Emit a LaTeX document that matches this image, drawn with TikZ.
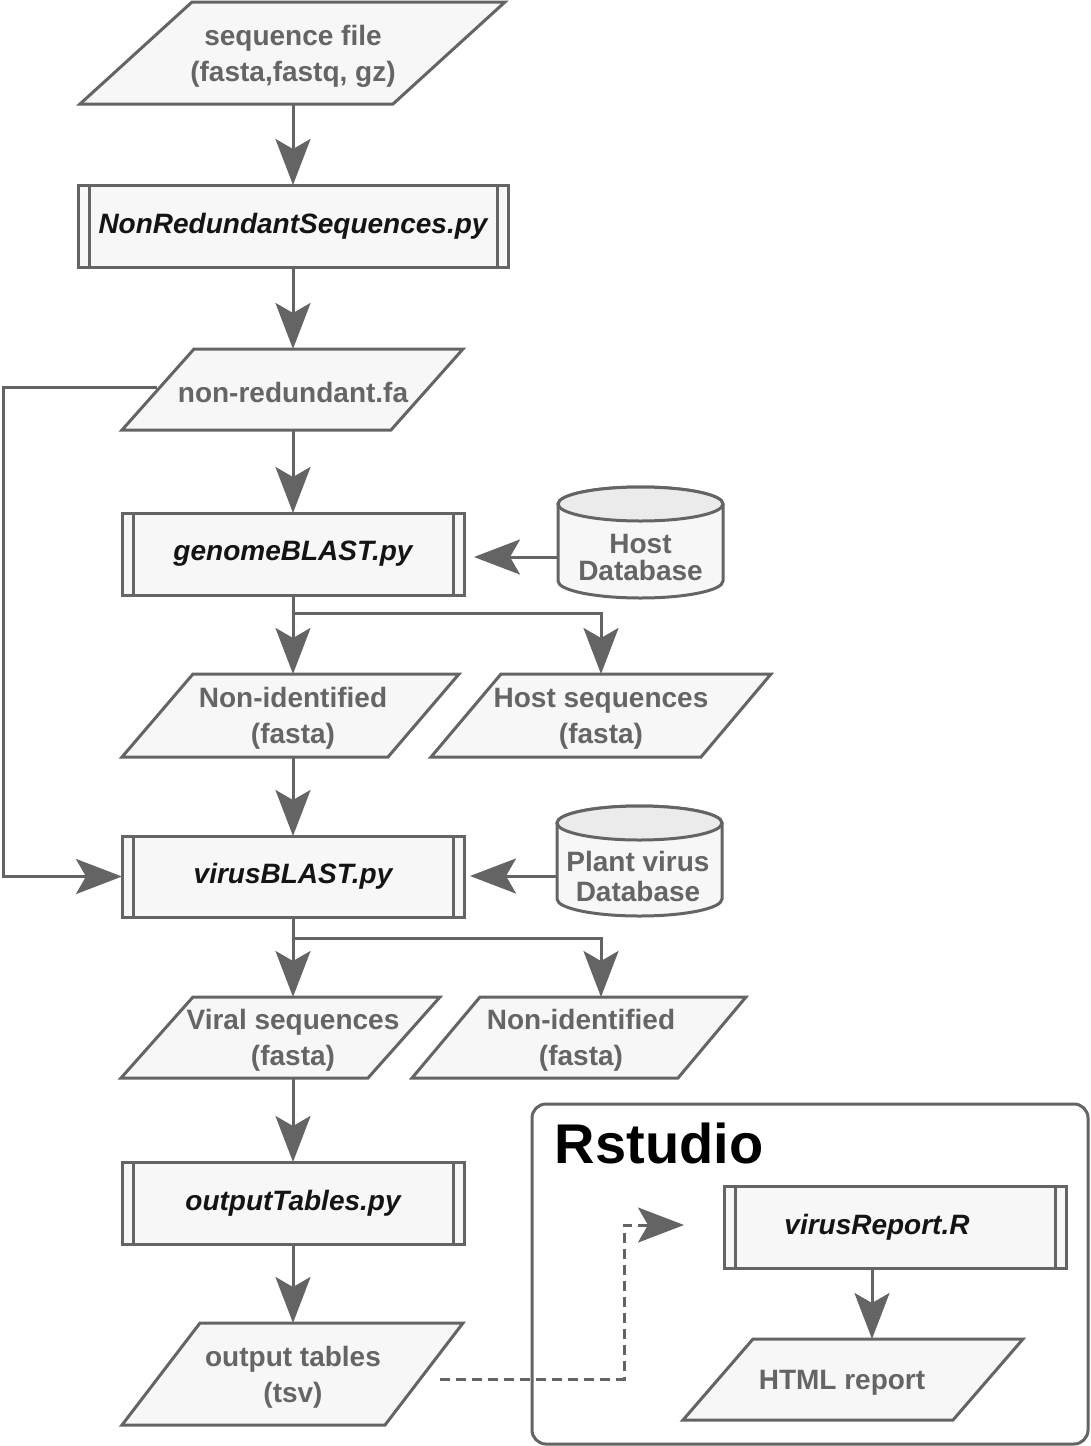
\documentclass[tikz,border=0pt]{standalone}
\usepackage{fontspec}
\setmainfont{Liberation Sans}
\usetikzlibrary{arrows.meta,calc}
\definecolor{ln}{HTML}{646464}
\definecolor{tx}{HTML}{656565}
\definecolor{fl}{HTML}{F7F7F7}
\definecolor{ft}{HTML}{EBEBEB}
\tikzset{
  shp/.style={draw=ln, line width=3pt, fill=fl, line join=miter},
  edge/.style={draw=ln, line width=3pt},
  ptext/.style={inner sep=0pt, outer sep=0pt, align=center, text=tx,
    font=\fontsize{28}{36}\selectfont\bfseries},
  proc/.style={draw=ln, line width=3pt, fill=fl, inner sep=0pt, outer sep=0pt,
    text=black!92, font=\fontsize{28}{34}\selectfont\bfseries\itshape},
  arr/.style={draw=ln, line width=3pt, -{Stealth[length=46pt,width=35pt,inset=10pt]}},
  dasharr/.style={arr, dash pattern=on 10pt off 6pt},
}
\newcommand\para[8]{% name, cx, x0, y0, x1, y1, slant, text
  \draw[shp] (#3,#6) -- (#5-#7,#6) -- (#5,#4) -- (#3+#7,#4) -- cycle;
  \node[ptext, minimum width=20pt, minimum height={#6-#4},
        label={[ptext, yshift=-3pt]center:#8}] (#1) at (#2,{(#4+#6)/2}) {};
}
\newcommand\procbox[6]{% name, x0, y0, x1, y1, text
  \node[proc, minimum width={#4-#2}, minimum height={#5-#3}] (#1) at ({(#2+#4)/2},{(#3+#5)/2}) {#6};
  \draw[edge] ([xshift=11pt]#1.north west) -- ([xshift=11pt]#1.south west)
              ([xshift=-11pt]#1.north east) -- ([xshift=-11pt]#1.south east);
}
\begin{document}
\begin{tikzpicture}[x=1pt,y=-1pt]
\useasboundingbox (0,0) rectangle (1090,1446);

% input
\para{sf}{293}{80}{2}{505}{104}{112}{sequence file\\(fasta,fastq, gz)}
\procbox{nrs}{78}{185}{508}{267}{NonRedundantSequences.py}
\para{nr}{293}{122}{349}{463}{430}{72}{non-redundant.fa}
\procbox{gb}{122}{513}{464}{595}{genomeBLAST.py}

% host database cylinder
\draw[shp] (558,504) -- (558,581) arc[start angle=180,end angle=360,x radius=82.5pt,y radius=17pt]
  -- (723,504) arc[start angle=0,end angle=180,x radius=82.5pt,y radius=17pt] -- cycle;
\draw[shp, fill=ft] (640.5,504) ellipse [x radius=82.5pt, y radius=17pt];
\node[ptext, font=\fontsize{28}{27}\selectfont\bfseries, minimum width=165pt] (hdb) at (640.5,557) {Host\\Database};

\para{ni1}{293}{122}{674}{459}{757}{71}{Non-identified\\(fasta)}
\para{hs}{601}{431}{674}{771}{757}{70}{Host sequences\\(fasta)}

\procbox{vb}{122}{836}{464}{917}{virusBLAST.py}

% plant virus database cylinder
\draw[shp] (557,823) -- (557,899) arc[start angle=180,end angle=360,x radius=82.5pt,y radius=17pt]
  -- (722,823) arc[start angle=0,end angle=180,x radius=82.5pt,y radius=17pt] -- cycle;
\draw[shp, fill=ft] (639.5,823) ellipse [x radius=82.5pt, y radius=17pt];
\node[ptext, font=\fontsize{28}{30}\selectfont\bfseries, minimum width=165pt] (pv) at (638,876) {Plant virus\\Database};

\para{vs}{293}{121}{997}{440}{1078}{72}{Viral sequences\\(fasta)}
\para{ni2}{581}{412}{997}{746}{1078}{68}{Non-identified\\(fasta)}

\procbox{ot}{122}{1162}{464}{1244}{outputTables.py}
\para{otab}{293}{122}{1323}{463}{1425}{78}{output tables\\(tsv)}

% Rstudio container
\node[draw=ln, line width=3pt, rounded corners=14pt, minimum width=556pt, minimum height=340pt,
      inner sep=0pt, outer sep=0pt] (rs) at (810,1274) {};
\node[anchor=base, inner sep=0pt, text=black, font=\fontsize{56}{60}\selectfont\bfseries] (rstitle) at (659,1163) {Rstudio};

\node[proc, minimum width=342pt, minimum height=82pt,
      label={[xshift=-18pt, text=black!92, font=\fontsize{28}{34}\selectfont\bfseries\itshape]center:virusReport.R}] (vr) at (895,1227) {};
\draw[edge] ([xshift=11pt]vr.north west) -- ([xshift=11pt]vr.south west)
            ([xshift=-11pt]vr.north east) -- ([xshift=-11pt]vr.south east);
\para{html}{842}{683}{1339}{1023}{1420}{70}{HTML report}

% connectors
\draw[arr] (sf.south) -- (nrs.north);
\draw[arr] (nrs.south) -- (nr.north);
\draw[arr] (nr.south) -- (gb.north);
\draw[arr, shorten >=10pt] (hdb.west) -- (hdb.west -| gb.east);
\draw[arr] (gb.south) -- (ni1.north);
\draw[arr] (gb.south) -- ++(0,18) -| (hs.north);
\draw[arr] (ni1.south) -- (vb.north);
\draw[arr, shorten >=6pt] (pv.west) -- (pv.west -| vb.east);
\draw[arr] (vb.south) -- (vs.north);
\draw[arr] (vb.south) -- ++(0,21) -| ([xshift=20pt]ni2.north);
\draw[arr] (vs.south) -- (ot.north);
\draw[arr] (ot.south) -- (otab.north);

\coordinate (lp) at (157,387);
\draw[arr] (lp) -- (3,387) |- (vb.west);

\coordinate (dstart) at (440,1379);
\coordinate (dturn) at (624,1379);
\coordinate (dend) at (684,1225);
\draw[dasharr] (dstart) -- (dturn) |- (dend);

\draw[arr] ([xshift=-23pt]vr.south) -- ([xshift=-23pt]vr.south |- html.north);
\end{tikzpicture}
\end{document}
